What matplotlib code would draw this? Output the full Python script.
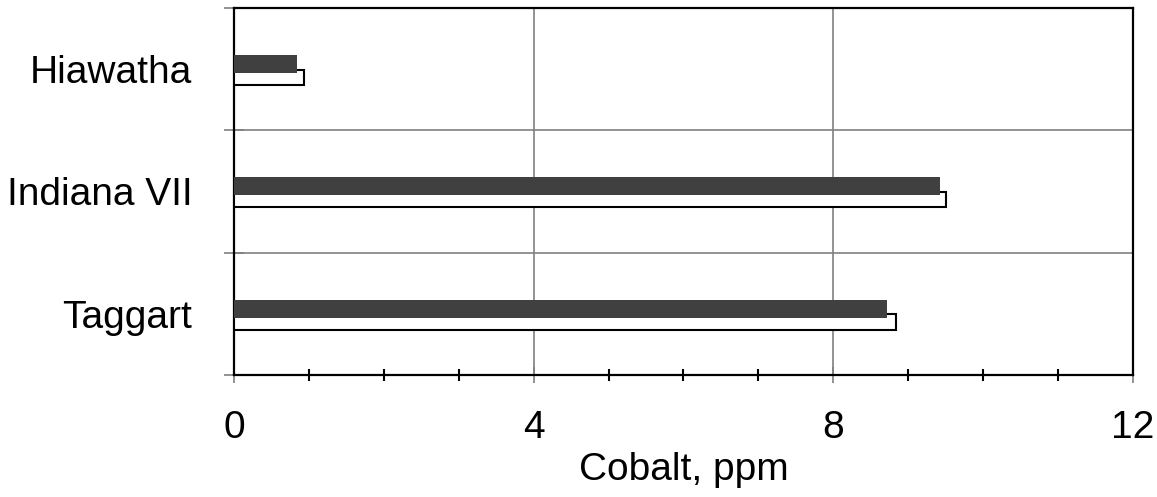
import numpy as np
import matplotlib
matplotlib.use("Agg")
import matplotlib.pyplot as plt
from matplotlib.ticker import MultipleLocator, FixedLocator

plt.rcParams['font.family'] = ['Liberation Sans', 'DejaVu Sans']

mines = ['Hiawatha', 'Indiana VII', 'Taggart']
cobalt_dark = [0.84, 9.43, 8.72]
cobalt_white = [0.93, 9.50, 8.84]
xticks = [0, 4, 8, 12]

fig = plt.figure(figsize=(11.57, 4.97), dpi=100)
ax = fig.add_axes([0.2022, 0.2455, 0.9793 - 0.2022, 0.9839 - 0.2455])

y = np.arange(len(mines))
ax.barh(y + 0.068, cobalt_white, height=0.125, color='white',
        edgecolor='black', linewidth=1.5, zorder=3)
ax.barh(y - 0.041, cobalt_dark, height=0.147, color='#404040',
        linewidth=0, zorder=4)

ax.set_xlim(0, 12)
ax.set_ylim(len(mines) - 0.5, -0.5)

ax.set_xticks(xticks)
ax.set_xticklabels([str(t) for t in xticks])
ax.xaxis.set_minor_locator(MultipleLocator(1))
ax.set_yticks(y)
ax.set_yticklabels(mines)
ax.yaxis.set_minor_locator(FixedLocator(np.arange(-0.5, len(mines), 1.0)))

ax.grid(True, axis='x', which='major', color='#808080', linewidth=1.2, zorder=1)
ax.grid(True, axis='y', which='minor', color='#808080', linewidth=1.2, zorder=1)
ax.set_axisbelow(True)

ax.tick_params(axis='x', which='major', direction='inout', length=11,
               color='#808080', width=1.2, labelsize=28, pad=20)
ax.tick_params(axis='x', which='minor', direction='inout', length=9,
               color='black', width=1.5)
ax.tick_params(axis='y', which='major', length=0, labelsize=28, pad=30)
ax.tick_params(axis='y', which='minor', direction='inout', length=14,
               color='#808080', width=1.2)

for s in ax.spines.values():
    s.set_color('black')
    s.set_linewidth(1.6)

ax.set_xlabel('Cobalt, ppm', fontsize=28, labelpad=4)

fig.savefig('out.png', dpi=100)
